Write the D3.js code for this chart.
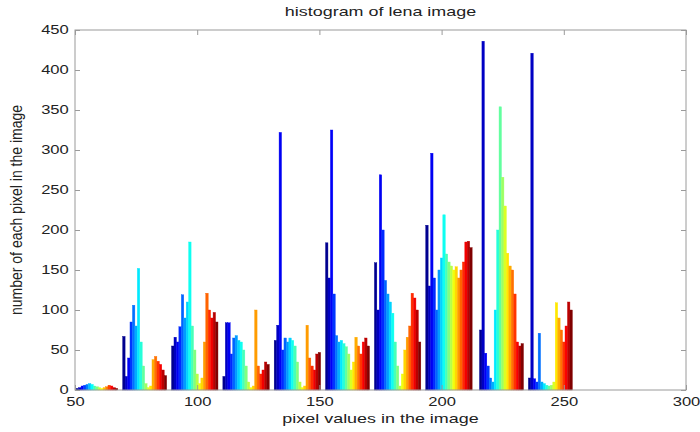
<!DOCTYPE html>
<html><head><meta charset="utf-8">
<script src="https://cdn.jsdelivr.net/npm/d3@7"></script>
<style>
body{margin:0;background:#fff}
svg{display:block}
text{font-family:"Liberation Sans",Arial,Helvetica,sans-serif;fill:#222}
</style>
</head><body><svg id="c" width="700" height="432"></svg>
<script>
// ---- data ----
const titleText = "histogram of lena image";
const xLabelText = "pixel values in the image";
const yLabelText = "number of each pixel in the image";
const xTicks = [50, 100, 150, 200, 250, 300];
const yTicks = [0, 50, 100, 150, 200, 250, 300, 350, 400, 450];
// first pixel value of each cluster of bars
const groupStart = [51, 70, 90, 111, 132, 153, 173, 194, 216, 236];
// counts for consecutive pixel values in each cluster
const group0 = [2,3,5,6,7,8,7,5,4,3,2,3,4,6,5,3,2];
const group1 = [67,17,40,85,106,80,152,60,30,8,3,5,38,42,36,32,25,18];
const group2 = [55,66,60,79,119,90,110,185,80,50,20,8,15,60,121,100,90,97,85];
const group3 = [17,84,84,45,65,68,62,60,50,30,10,3,5,100,30,20,25,35,32];
const group4 = [62,81,322,50,65,60,65,62,55,35,10,3,5,81,40,30,25,45,47];
const group5 = [184,140,325,120,68,60,62,58,54,45,25,35,66,55,45,60,65,55];
const group6 = [159,100,269,200,137,120,110,96,60,30,5,20,50,66,80,121,115,100,60];
const group7 = [206,130,296,140,100,150,165,219,170,160,155,150,154,140,150,160,185,186,178];
const group8 = [75,436,46,30,15,10,100,200,354,266,230,171,155,150,120,60,55,58];
const group9 = [15,421,14,10,71,10,8,6,5,6,10,109,90,75,60,80,110,100];
const groups = [group0,group1,group2,group3,group4,group5,group6,group7,group8,group9];

// ---- layout ----
const svg = d3.select("#c");
const L = 75, R = 686, T = 30, B = 390;
const x = d3.scaleLinear().domain([50, 300]).range([L, R]);
const y = d3.scaleLinear().domain([0, 450]).range([B, T]);
const jet = d3.scaleLinear()
  .domain([0, 0.125, 0.375, 0.625, 0.875, 1])
  .range(["#00008f", "#0000ff", "#00ffff", "#ffff00", "#ff0000", "#800000"])
  .interpolate(d3.interpolateRgb);
const SX = 1.38; // horizontal text stretch seen in the reference

const bars = [];
groups.forEach((g, gi) => {
  g.forEach((c, i) => {
    bars.push({v: groupStart[gi] + i, c: c, t: i / (g.length - 1)});
  });
});

svg.append("g").selectAll("rect").data(bars).join("rect")
  .attr("x", d => x(d.v - 0.5))
  .attr("width", d => x(d.v + 0.5) - x(d.v - 0.5))
  .attr("y", d => y(d.c))
  .attr("height", d => y(0) - y(d.c))
  .attr("fill", d => jet(d.t))
  .attr("stroke", d => jet(d.t))
  .attr("stroke-width", 0.4);

// axes
const axisColor = "#9a9a9a";
function styleAxis(g) {
  g.select(".domain").remove();
  g.selectAll(".tick line").attr("stroke", axisColor);
  g.selectAll("text").attr("font-size", 12).attr("fill", "#222");
}
const gx = svg.append("g").attr("transform", `translate(0,${B})`)
  .call(d3.axisBottom(x).tickValues(xTicks).tickSize(-5).tickPadding(7).tickFormat(d3.format("d")));
styleAxis(gx);
gx.selectAll("text").attr("transform", `scale(${SX},1)`);

const gy = svg.append("g").attr("transform", `translate(${L},0)`)
  .call(d3.axisLeft(y).tickValues(yTicks).tickSize(-5).tickPadding(4.5).tickFormat(d3.format("d")));
styleAxis(gy);
gy.selectAll("text").attr("transform", `scale(${SX},1)`);

const gt = svg.append("g").attr("transform", `translate(0,${T})`)
  .call(d3.axisTop(x).tickValues(xTicks).tickSize(-5).tickFormat(""));
styleAxis(gt);
const gr = svg.append("g").attr("transform", `translate(${R},0)`)
  .call(d3.axisRight(y).tickValues(yTicks).tickSize(-5).tickFormat(""));
styleAxis(gr);

svg.append("rect").attr("x", L).attr("y", T).attr("width", R - L).attr("height", B - T)
  .attr("fill", "none").attr("stroke", axisColor).attr("stroke-width", 1);

// title and labels
svg.append("text").attr("transform", `translate(${(L + R) / 2},16) scale(${SX},1)`)
  .attr("text-anchor", "middle").attr("font-size", 13).text(titleText);
svg.append("text").attr("transform", `translate(${(L + R) / 2},423) scale(${SX},1)`)
  .attr("text-anchor", "middle").attr("font-size", 13).text(xLabelText);
svg.append("text").attr("transform", `translate(22,${(T + B) / 2}) scale(1.2,1) rotate(-90)`)
  .attr("text-anchor", "middle").attr("font-size", 14).text(yLabelText);
</script>
</body></html>
